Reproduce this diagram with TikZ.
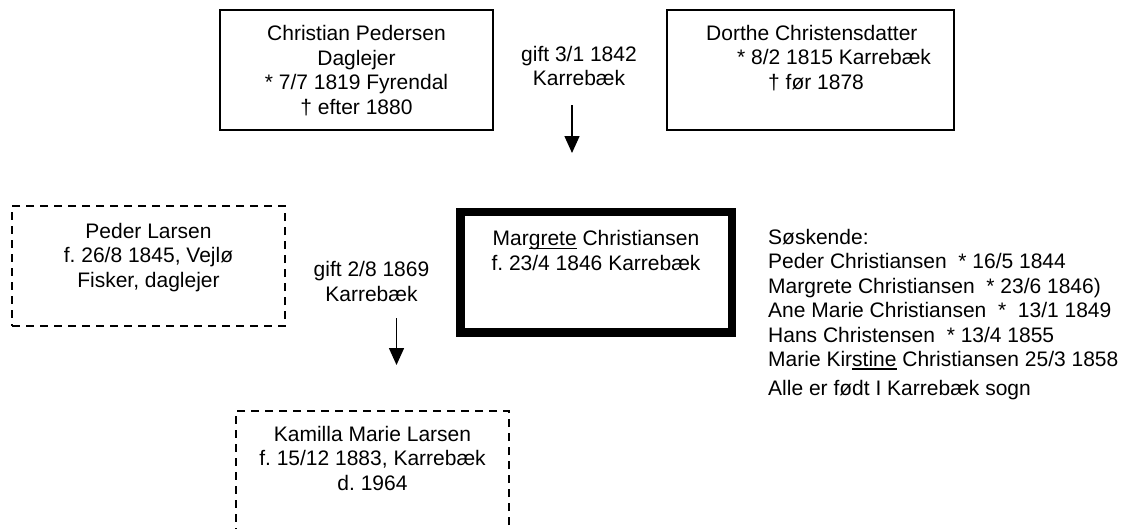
\documentclass[tikz,border=0pt]{standalone}
\usepackage{fontspec}
\setmainfont{Liberation Sans}
\usetikzlibrary{arrows.meta}
\frenchspacing
\newcommand\myul[1]{\setbox0\hbox{#1}\rlap{\rule[-3.5pt]{\wd0}{1.5pt}}\box0\relax}
\tikzset{
 txt/.style={inner sep=0pt, align=center, font=\fontsize{21}{24.4}\selectfont},
 ltxt/.style={inner sep=0pt, align=left, anchor=west, font=\fontsize{21}{24.4}\selectfont},
 solidbox/.style={draw, line width=1.6pt, inner sep=0pt},
 dashbox/.style={draw, line width=2pt, dash pattern=on 8pt off 6pt, inner sep=0pt},
 thickbox/.style={draw, line width=8.5pt, inner sep=0pt},
 arr/.style={line width=1.5pt, -{Triangle[width=15pt,length=17pt]}},
}
\begin{document}
\begin{tikzpicture}[x=1pt,y=-1pt]
\useasboundingbox (0,0) rectangle (1124,528);
% boxes
\node[solidbox, minimum width=273pt, minimum height=120pt] (cp) at (356.5,70) {};
\node[solidbox, minimum width=287pt, minimum height=120pt] (dc) at (810.5,70) {};
\node[dashbox, minimum width=273pt, minimum height=120pt] (pl) at (148.5,266) {};
\node[thickbox, minimum width=271.5pt, minimum height=120.5pt] (mc) at (596.25,272.25) {};
\node[dashbox, minimum width=273pt, minimum height=149pt] (km) at (372.5,485.5) {};
% texts
\node[txt] (cpt) at (356.5,72.6) {\strut Christian Pedersen\\\strut Daglejer\\\strut * 7/7 1819 Fyrendal\\\strut † efter 1880};
\node[txt] (g1) at (579,68.6) {\strut gift 3/1 1842\\\strut Karrebæk};
\node[ltxt] (dct) at (706,60.1) {\strut Dorthe Christensdatter\\\hspace*{31pt}\strut * 8/2 1815 Karrebæk\\\hspace*{62pt}\strut † før 1878};
\node[txt] (plt) at (148.5,258.1) {\strut Peder Larsen\\\strut f. 26/8 1845, Vejlø\\\strut Fisker, daglejer};
\node[txt] (g2) at (371.5,284.1) {\strut gift 2/8 1869\\\strut Karrebæk};
\node[txt] (mct) at (596,253.1) {\strut Mar\myul{grete} Christiansen\\\strut f. 23/4 1846 Karrebæk};
\node[ltxt] (sk) at (768,300.6) {\strut Søskende:\\\strut Peder Christiansen\ \ * 16/5 1844\\\strut Margrete Christiansen\ \ * 23/6 1846)\\\strut Ane Marie Christiansen\ \ *\ \ 13/1 1849\\\strut Hans Christensen\ \ * 13/4 1855\\\strut Marie Kir\myul{stine} Christiansen 25/3 1858};
\node[ltxt] (alle) at (768,390.6) {\strut Alle er født I Karrebæk sogn};
\node[txt] (kmt) at (372.5,461.1) {\strut Kamilla Marie Larsen\\\strut f. 15/12 1883, Karrebæk\\\strut d. 1964};
% arrows
\coordinate (a1s) at (572,105);
\coordinate (a1e) at (572,153);
\coordinate (a2s) at (396.5,318);
\coordinate (a2e) at (396.5,365);
\draw[arr] (a1s) -- (a1e);
\draw[arr] (a2s) -- (a2e);
\end{tikzpicture}
\end{document}
